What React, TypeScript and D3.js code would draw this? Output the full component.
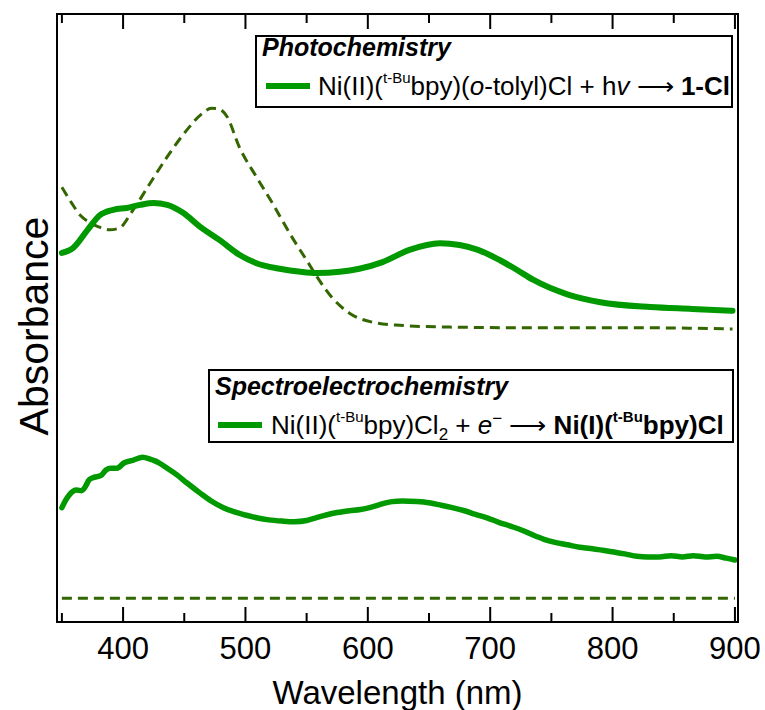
import React from "react";
import * as d3 from "d3";

// ---------- data (wavelength nm, absorbance in arbitrary offset units) ----------
const photoSolid: [number, number][] = [
  [350, 60.7], [359, 61.5], [371, 64.5], [381, 66.9], [392, 67.8], [403, 68.1],
  [414, 68.6], [425, 68.9], [436, 68.6], [449, 67.3], [463, 65.0], [479, 62.8],
  [495, 60.4], [509, 59.0], [528, 58.1], [545, 57.6], [558, 57.4], [577, 57.6],
  [593, 58.1], [612, 59.2], [634, 61.2], [659, 62.3], [675, 62.0], [690, 61.2],
  [708, 59.5], [722, 57.9], [735, 56.3], [763, 53.9], [790, 52.6], [831, 51.8],
  [865, 51.5], [898, 51.2],
];
const photoDashed: [number, number][] = [
  [350, 71.5], [358, 68.9], [365, 66.9], [372, 65.8], [380, 65.0], [389, 64.5],
  [397, 64.8], [407, 67.4], [420, 71.5], [436, 76.5], [452, 80.9], [465, 83.7],
  [472, 84.5], [478, 84.4], [485, 83.1], [495, 78.1], [509, 73.2], [522, 68.9],
  [538, 63.3], [550, 59.5], [560, 56.3], [571, 53.3], [585, 50.8], [604, 49.3],
  [626, 48.8], [667, 48.5], [735, 48.4], [817, 48.4], [898, 48.2],
];
const spectroSolid: [number, number][] = [
  [350, 18.8], [353, 20.0], [356, 20.9], [362, 21.7], [366, 21.6], [369, 22.2],
  [372, 23.3], [375, 23.7], [382, 24.1], [386, 25.0], [390, 25.3], [395, 25.3],
  [401, 26.2], [408, 26.6], [416, 27.1], [422, 26.8], [426, 26.5], [429, 26.2],
  [436, 25.3], [444, 24.2], [452, 22.9], [463, 21.2], [472, 19.9], [482, 18.8],
  [491, 18.1], [500, 17.6], [510, 17.1], [519, 16.8], [530, 16.6], [540, 16.5],
  [550, 16.7], [557, 17.1], [566, 17.6], [575, 18.0], [585, 18.3], [594, 18.5],
  [603, 18.9], [613, 19.5], [620, 19.8], [628, 19.9], [640, 19.8], [650, 19.6],
  [660, 19.2], [669, 18.8], [679, 18.3], [688, 17.7], [698, 17.1], [707, 16.4],
  [716, 15.8], [726, 15.1], [735, 14.3], [744, 13.6], [753, 13.1], [763, 12.7],
  [773, 12.3], [782, 12.1], [792, 11.8], [801, 11.5], [810, 11.2], [820, 10.8],
  [829, 10.7], [838, 10.7], [848, 10.9], [857, 10.7], [866, 10.9], [876, 10.7],
  [885, 10.8], [893, 10.5], [900, 10.2],
];
const spectroDashed: [number, number][] = [
  [350, 3.9], [450, 3.9], [550, 3.9], [650, 3.9], [750, 3.9], [850, 3.9], [900, 3.9],
];

const xMajorTicks = [400, 500, 600, 700, 800, 900];
const xMinorTicks = [350, 450, 550, 650, 750, 850];

const xLabel = "Wavelength (nm)";
const yLabel = "Absorbance";
const legend1Title = "Photochemistry";
const legend2Title = "Spectroelectrochemistry";

const SOLID = "#009900";
const DASHED = "#336600";

export default function App() {
  const W = 765, H = 710;
  const left = 57, right = 738, top = 14, bottom = 622;
  const x = d3.scaleLinear().domain([346, 902.5]).range([left, right]);
  const y = d3.scaleLinear().domain([0, 100]).range([bottom, top]);
  const line = d3
    .line<[number, number]>()
    .x((d) => x(d[0]))
    .y((d) => y(d[1]))
    .curve(d3.curveMonotoneX);
  const lineLin = d3
    .line<[number, number]>()
    .x((d) => x(d[0]))
    .y((d) => y(d[1]))
    .curve(d3.curveLinear);

  const font = "Liberation Sans, Arial, Helvetica, sans-serif";
  const majorLen = 15, minorLen = 9;

  return (
    <svg
      width={W}
      height={H}
      viewBox={`0 0 ${W} ${H}`}
      style={{ position: "absolute", left: 0, top: 0, background: "#fff" }}
      fontFamily={font}
    >
      <rect x={0} y={0} width={W} height={H} fill="#fff" />
      {/* data */}
      <path d={line(photoDashed) || ""} fill="none" stroke={DASHED} strokeWidth={3} strokeDasharray="10,6" />
      <path d={line(photoSolid) || ""} fill="none" stroke={SOLID} strokeWidth={6} strokeLinecap="round" />
      <path d={lineLin(spectroDashed) || ""} fill="none" stroke={DASHED} strokeWidth={3} strokeDasharray="10,6" />
      <path d={line(spectroSolid) || ""} fill="none" stroke={SOLID} strokeWidth={5.5} strokeLinejoin="round" strokeLinecap="round" />

      {/* frame */}
      <rect x={left} y={top} width={right - left} height={bottom - top} fill="none" stroke="#000" strokeWidth={2} />
      {/* ticks */}
      {xMajorTicks.map((t) => (
        <g key={"M" + t}>
          <line x1={x(t)} x2={x(t)} y1={bottom} y2={bottom - majorLen} stroke="#000" strokeWidth={2} />
          <line x1={x(t)} x2={x(t)} y1={top} y2={top + majorLen} stroke="#000" strokeWidth={2} />
          <text x={x(t)} y={659} textAnchor="middle" fontSize={31} fill="#000">{t}</text>
        </g>
      ))}
      {xMinorTicks.map((t) => (
        <g key={"m" + t}>
          <line x1={x(t)} x2={x(t)} y1={bottom} y2={bottom - minorLen} stroke="#000" strokeWidth={2} />
          <line x1={x(t)} x2={x(t)} y1={top} y2={top + minorLen} stroke="#000" strokeWidth={2} />
        </g>
      ))}
      <text x={(left + right) / 2} y={704} textAnchor="middle" fontSize={33} fill="#000">{xLabel}</text>
      <text transform={`translate(48,326) rotate(-90)`} textAnchor="middle" fontSize={41} fill="#000">{yLabel}</text>

      {/* legend 1 */}
      <rect x={256} y={36} width={476} height={71} fill="#fff" stroke="#000" strokeWidth={2} />
      <text x={262} y={56} fontSize={25} fontWeight="bold" fontStyle="italic" fill="#000">{legend1Title}</text>
      <line x1={266} x2={310} y1={86} y2={86} stroke={SOLID} strokeWidth={6} />
      <text x={318} y={95} fontSize={26} fill="#000">
        <tspan>Ni(II)(</tspan>
        <tspan fontSize={15} dy={-12}>t-Bu</tspan>
        <tspan dy={12}>bpy)(</tspan>
        <tspan fontStyle="italic">o</tspan>
        <tspan>-tolyl)Cl + h</tspan>
        <tspan fontStyle="italic">v</tspan>
        <tspan> ⟶ </tspan>
        <tspan fontWeight="bold">1-Cl</tspan>
      </text>

      {/* legend 2 */}
      <rect x={209} y={370} width={524} height={72} fill="#fff" stroke="#000" strokeWidth={2} />
      <text x={215} y={395} fontSize={25} fontWeight="bold" fontStyle="italic" fill="#000">{legend2Title}</text>
      <line x1={218} x2={262} y1={425} y2={425} stroke={SOLID} strokeWidth={6} />
      <text x={271} y={434} fontSize={26} fill="#000">
        <tspan>Ni(II)(</tspan>
        <tspan fontSize={15} dy={-12}>t-Bu</tspan>
        <tspan dy={12}>bpy)Cl</tspan>
        <tspan fontSize={17} dy={6}>2</tspan>
        <tspan dy={-6}> + </tspan>
        <tspan fontStyle="italic">e</tspan>
        <tspan fontSize={17} dy={-10}>−</tspan>
        <tspan dy={10}> ⟶ </tspan>
        <tspan fontWeight="bold">Ni(I)(</tspan>
        <tspan fontWeight="bold" fontSize={15} dy={-12}>t-Bu</tspan>
        <tspan fontWeight="bold" dy={12}>bpy)Cl</tspan>
      </text>
    </svg>
  );
}
